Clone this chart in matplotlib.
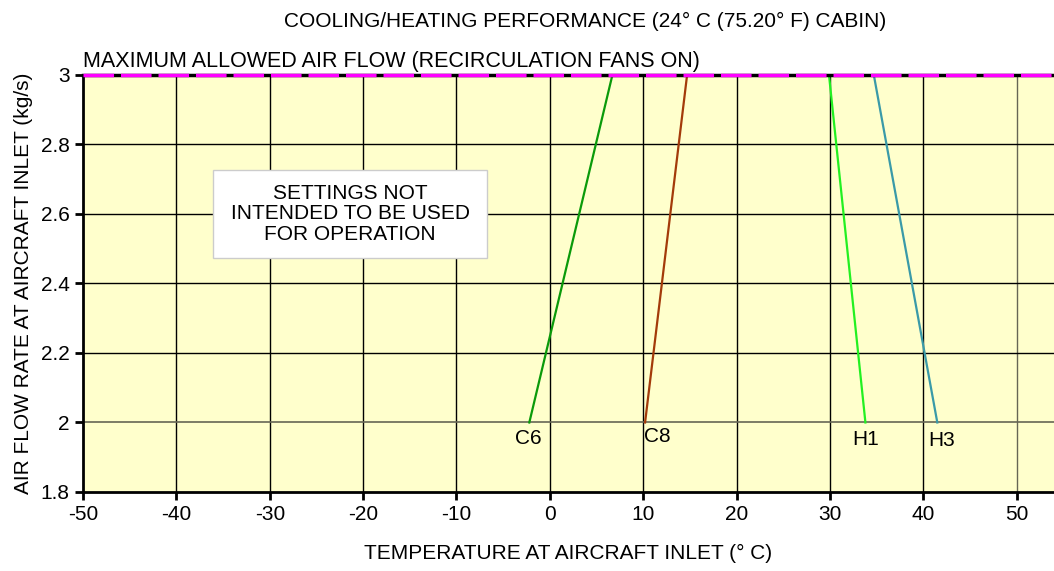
import matplotlib.pyplot as plt
from matplotlib.patches import Rectangle

plt.rcParams['font.family'] = ['Liberation Sans', 'DejaVu Sans']
plt.rcParams['axes.unicode_minus'] = False

# curve end points: (temperature, air flow)
names = ['C6', 'C8', 'H1', 'H3']
temp_low = [-2.2, 10.2, 33.8, 41.5]
temp_high = [6.7, 14.7, 29.9, 34.7]
flow_low = [2.0, 2.0, 2.0, 2.0]
flow_high = [3.0, 3.0, 3.0, 3.0]
colors = ['#0a9a0a', '#a33a0a', '#22f022', '#3a9aa8']
label_x = [-2.3, 11.5, 33.8, 42.0]
label_y = [1.955, 1.96, 1.952, 1.947]

max_flow = 3.0
xticks = list(range(-50, 51, 10))
yticks = [1.8, 2.0, 2.2, 2.4, 2.6, 2.8, 3.0]

fig = plt.figure(figsize=(10.54, 5.71), dpi=100)
ax = fig.add_axes([0.0788, 0.1384, 1 - 0.0788, 0.8687 - 0.1384])
ax.set_facecolor('#ffffcc')
ax.set_xlim(-50, 54)
ax.set_ylim(1.8, 3.0)

for x in xticks[1:]:
    ax.axvline(x, color='#666655' if x == 50 else 'black', lw=1, zorder=1)
for y in yticks[1:-1]:
    ax.axhline(y, color='#666655' if y == 2.0 else 'black', lw=1.2 if y == 2.0 else 1, zorder=1)

for i in range(len(names)):
    ax.plot([temp_low[i], temp_high[i]], [flow_low[i], flow_high[i]],
            color=colors[i], lw=1.6, zorder=3)
    ax.text(label_x[i], label_y[i], names[i], fontsize=15, ha='center', va='center', zorder=4)

# maximum flow limit line
ax.axhline(max_flow, color='black', lw=2.5, zorder=5, clip_on=False)
ax.axhline(max_flow, color='#ff00ff', lw=2.5, dashes=(8.8, 2.0), zorder=6, clip_on=False)
ax.text(-50, 3.008, 'MAXIMUM ALLOWED AIR FLOW (RECIRCULATION FANS ON)', fontsize=15.5,
        ha='left', va='bottom')

ax.add_patch(Rectangle((-36.1, 2.473), 29.4, 0.254, facecolor='white',
                       edgecolor='#cccccc', lw=1, zorder=4))
ax.text(-21.4, 2.6, 'SETTINGS NOT\nINTENDED TO BE USED\nFOR OPERATION', fontsize=15,
        ha='center', va='center', linespacing=1.08, zorder=5)

ax.set_xticks(xticks)
ax.set_yticks(yticks)
ax.set_yticklabels(['1.8', '2', '2.2', '2.4', '2.6', '2.8', '3'])
ax.tick_params(labelsize=15, length=6, width=2, direction='out')
for s in ['top', 'right']:
    ax.spines[s].set_visible(False)
for s in ['left', 'bottom']:
    ax.spines[s].set_linewidth(2)

ax.set_xlabel('TEMPERATURE AT AIRCRAFT INLET (° C)', fontsize=15, labelpad=14)
ax.set_ylabel('AIR FLOW RATE AT AIRCRAFT INLET (kg/s)', fontsize=15, labelpad=6)
fig.text(0.555, 0.962, 'COOLING/HEATING PERFORMANCE (24° C (75.20° F) CABIN)', fontsize=15,
         ha='center', va='center')

fig.savefig('out.png', dpi=100)
